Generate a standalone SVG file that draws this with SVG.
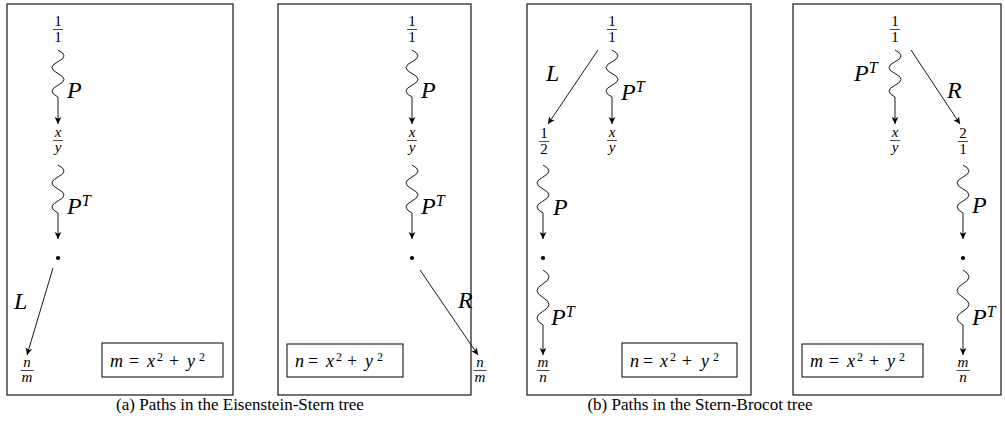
<svg xmlns="http://www.w3.org/2000/svg" width="1005" height="426" viewBox="0 0 1005 426">
<style>
.frame{fill:none;stroke:#000;stroke-width:1.1}
.conn{fill:none;stroke:#000;stroke-width:0.9}
.bar{stroke:#000;stroke-width:0.7}
.fr{font-family:"Liberation Serif",serif;font-size:15px;text-anchor:middle;fill:#000}
.fi{font-style:italic}
.lbl{font-family:"Liberation Serif",serif;font-style:italic;font-size:24px;fill:#000}
.sup{font-size:16px}
.eqbox{fill:none;stroke:#000;stroke-width:1}
.eq{font-family:"Liberation Serif",serif;font-size:18px;fill:#000}
.ev{font-style:italic}
.es{font-size:12px}
.cap{font-family:"Liberation Serif",serif;font-size:17px;text-anchor:middle;fill:#000}
</style>
<defs>
<marker id="ah" markerWidth="8" markerHeight="8" refX="7" refY="4" orient="auto" markerUnits="userSpaceOnUse">
<path d="M0,0.6 L7,4 L0,7.4 L1.8,4 Z" fill="#000"/>
</marker>
</defs>

<g id="frames">
<rect class="frame" x="7" y="4" width="226" height="391"/>
<rect class="frame" x="278" y="4" width="193" height="391"/>
<rect class="frame" x="527" y="4" width="224" height="391"/>
<rect class="frame" x="793" y="4" width="208" height="391"/>
</g>

<g id="connectors">
<!-- panel 1 -->
<path class="conn" marker-end="url(#ah)" d="M58,50 q12,5.9 0,11.75 t0,11.75 t0,11.75 t0,11.75 L58,124"/>
<path class="conn" marker-end="url(#ah)" d="M58,165 q12,6 0,12 t0,12 t0,12 t0,12 L58,239"/>
<path class="conn" marker-end="url(#ah)" d="M53,268 L27,355"/>
<!-- panel 2 -->
<path class="conn" marker-end="url(#ah)" d="M412,50 q12,5.9 0,11.75 t0,11.75 t0,11.75 t0,11.75 L412,124"/>
<path class="conn" marker-end="url(#ah)" d="M412,165 q12,6 0,12 t0,12 t0,12 t0,12 L412,239"/>
<path class="conn" marker-end="url(#ah)" d="M420,270 L478,355"/>
<!-- panel 3 -->
<path class="conn" marker-end="url(#ah)" d="M598,50 L548,124"/>
<path class="conn" marker-end="url(#ah)" d="M612,50 q12,5.9 0,11.75 t0,11.75 t0,11.75 t0,11.75 L612,124"/>
<path class="conn" marker-end="url(#ah)" d="M543,165 q12,6 0,12 t0,12 t0,12 t0,12 L543,239"/>
<path class="conn" marker-end="url(#ah)" d="M543,270 q12,6.9 0,13.75 t0,13.75 t0,13.75 t0,13.75 L543,355"/>
<!-- panel 4 -->
<path class="conn" marker-end="url(#ah)" d="M895,50 q12,5.9 0,11.75 t0,11.75 t0,11.75 t0,11.75 L895,124"/>
<path class="conn" marker-end="url(#ah)" d="M911,50 L960,124"/>
<path class="conn" marker-end="url(#ah)" d="M963,165 q12,6 0,12 t0,12 t0,12 t0,12 L963,239"/>
<path class="conn" marker-end="url(#ah)" d="M963,270 q12,6.9 0,13.75 t0,13.75 t0,13.75 t0,13.75 L963,355"/>

<!-- labels -->
<text class="lbl" x="67" y="98">P</text>
<text class="lbl" x="67" y="214">P<tspan class="sup" dy="-8">T</tspan></text>
<text class="lbl" x="14" y="309">L</text>
<text class="lbl" x="458" y="308">R</text>
<text class="lbl" x="421" y="98">P</text>
<text class="lbl" x="421" y="214">P<tspan class="sup" dy="-8">T</tspan></text>
<text class="lbl" x="546" y="81">L</text>
<text class="lbl" x="621" y="100">P<tspan class="sup" dy="-8">T</tspan></text>
<text class="lbl" x="553" y="215">P</text>
<text class="lbl" x="551" y="325">P<tspan class="sup" dy="-8">T</tspan></text>
<text class="lbl" x="854" y="81">P<tspan class="sup" dy="-8">T</tspan></text>
<text class="lbl" x="947" y="98">R</text>
<text class="lbl" x="972" y="213">P</text>
<text class="lbl" x="972" y="325">P<tspan class="sup" dy="-8">T</tspan></text>
</g>

<!-- panel 1 nodes -->
<g id="p1-one">
<text class="fr" x="58" y="26">1</text><line class="bar" x1="53" y1="29.5" x2="63" y2="29.5"/><text class="fr" x="58" y="42">1</text>
</g>
<g id="p1-xy">
<text class="fr fi" x="58" y="137">x</text><line class="bar" x1="53" y1="140.5" x2="63" y2="140.5"/><text class="fr fi" x="58" y="152">y</text>
</g>
<g id="p1-dot"><circle cx="58" cy="258" r="2.1" fill="#000"/></g>
<g id="p1-nm">
<text class="fr fi" x="27" y="367">n</text><line class="bar" x1="20.5" y1="370.5" x2="33.5" y2="370.5"/><text class="fr fi" x="27" y="382">m</text>
</g>
<g id="p1-eq">
<rect class="eqbox" x="102" y="343" width="121" height="34"/>
<text class="eq" y="367"><tspan class="ev" x="110">m</tspan><tspan x="129">=</tspan><tspan class="ev" x="147">x</tspan><tspan class="es" x="157" y="361">2</tspan><tspan x="169" y="367">+</tspan><tspan class="ev" x="187">y</tspan><tspan class="es" x="199" y="361">2</tspan></text>
</g>

<!-- panel 2 nodes -->
<g id="p2-one">
<text class="fr" x="412" y="26">1</text><line class="bar" x1="407" y1="29.5" x2="417" y2="29.5"/><text class="fr" x="412" y="42">1</text>
</g>
<g id="p2-xy">
<text class="fr fi" x="412" y="137">x</text><line class="bar" x1="407" y1="140.5" x2="417" y2="140.5"/><text class="fr fi" x="412" y="152">y</text>
</g>
<g id="p2-dot"><circle cx="412" cy="258" r="2.1" fill="#000"/></g>
<g id="p2-nm">
<text class="fr fi" x="480" y="367">n</text><line class="bar" x1="473.5" y1="370.5" x2="486.5" y2="370.5"/><text class="fr fi" x="480" y="382">m</text>
</g>
<g id="p2-eq">
<rect class="eqbox" x="287" y="344" width="116" height="33"/>
<text class="eq" y="367"><tspan class="ev" x="295">n</tspan><tspan x="308">=</tspan><tspan class="ev" x="326">x</tspan><tspan class="es" x="336" y="361">2</tspan><tspan x="347" y="367">+</tspan><tspan class="ev" x="365">y</tspan><tspan class="es" x="377" y="361">2</tspan></text>
</g>

<!-- panel 3 nodes -->
<g id="p3-one">
<text class="fr" x="612" y="26">1</text><line class="bar" x1="607" y1="29.5" x2="617" y2="29.5"/><text class="fr" x="612" y="42">1</text>
</g>
<g id="p3-half">
<text class="fr" x="544" y="138">1</text><line class="bar" x1="539" y1="141.5" x2="549" y2="141.5"/><text class="fr" x="544" y="154">2</text>
</g>
<g id="p3-xy">
<text class="fr fi" x="612" y="137">x</text><line class="bar" x1="607" y1="140.5" x2="617" y2="140.5"/><text class="fr fi" x="612" y="152">y</text>
</g>
<g id="p3-dot"><circle cx="543" cy="258" r="2.1" fill="#000"/></g>
<g id="p3-mn">
<text class="fr fi" x="543" y="367">m</text><line class="bar" x1="536.5" y1="370.5" x2="549.5" y2="370.5"/><text class="fr fi" x="543" y="382">n</text>
</g>
<g id="p3-eq">
<rect class="eqbox" x="622" y="343" width="115" height="34"/>
<text class="eq" y="367"><tspan class="ev" x="630">n</tspan><tspan x="643">=</tspan><tspan class="ev" x="660">x</tspan><tspan class="es" x="670" y="361">2</tspan><tspan x="682" y="367">+</tspan><tspan class="ev" x="701">y</tspan><tspan class="es" x="713" y="361">2</tspan></text>
</g>

<!-- panel 4 nodes -->
<g id="p4-one">
<text class="fr" x="895" y="26">1</text><line class="bar" x1="890" y1="29.5" x2="900" y2="29.5"/><text class="fr" x="895" y="42">1</text>
</g>
<g id="p4-xy">
<text class="fr fi" x="895" y="137">x</text><line class="bar" x1="890" y1="140.5" x2="900" y2="140.5"/><text class="fr fi" x="895" y="152">y</text>
</g>
<g id="p4-two">
<text class="fr" x="963" y="138">2</text><line class="bar" x1="958" y1="141.5" x2="968" y2="141.5"/><text class="fr" x="963" y="154">1</text>
</g>
<g id="p4-dot"><circle cx="963" cy="258" r="2.1" fill="#000"/></g>
<g id="p4-mn">
<text class="fr fi" x="963" y="367">m</text><line class="bar" x1="956.5" y1="370.5" x2="969.5" y2="370.5"/><text class="fr fi" x="963" y="382">n</text>
</g>
<g id="p4-eq">
<rect class="eqbox" x="802" y="344" width="121" height="33"/>
<text class="eq" y="367"><tspan class="ev" x="810">m</tspan><tspan x="829">=</tspan><tspan class="ev" x="847">x</tspan><tspan class="es" x="857" y="361">2</tspan><tspan x="869" y="367">+</tspan><tspan class="ev" x="887">y</tspan><tspan class="es" x="899" y="361">2</tspan></text>
</g>

<g id="captions">
<text class="cap" x="240" y="410">(a) Paths in the Eisenstein-Stern tree</text>
<text class="cap" x="700" y="410">(b) Paths in the Stern-Brocot tree</text>
</g>
</svg>
